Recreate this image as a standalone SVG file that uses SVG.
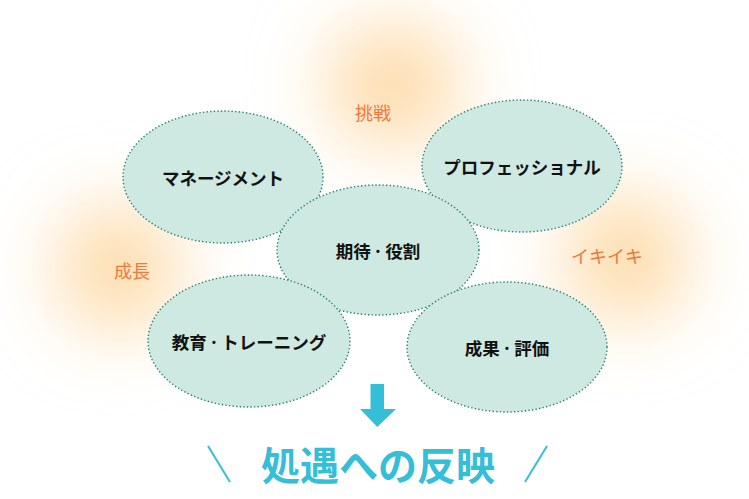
<svg xmlns="http://www.w3.org/2000/svg" width="749" height="499" viewBox="0 0 749 499">
<style>
.node{fill:#CDE9E2;stroke:#2B7F70;stroke-width:1.4;stroke-dasharray:1.4 2.2;}
.nt{font-family:"Noto Sans CJK JP","Noto Sans",sans-serif;font-weight:bold;font-size:17.5px;fill:#111;text-anchor:middle;}
.lbl{font-family:"Noto Sans CJK JP","Noto Sans",sans-serif;font-size:18px;fill:#F0783C;text-anchor:middle;}
.ttl{font-family:"Noto Sans CJK JP","Noto Sans",sans-serif;font-weight:bold;font-size:39px;fill:#35BED7;text-anchor:middle;}
.glow{fill:#FDD9A4;filter:url(#blur);}
</style>
<defs>
<filter id="blur" x="-100%" y="-100%" width="300%" height="300%">
<feGaussianBlur stdDeviation="38"/>
</filter>
</defs>
<rect width="749" height="499" fill="#FFFFFF"/>
<g id="glows">
<ellipse class="glow" cx="393" cy="85" rx="65" ry="60"/>
<ellipse class="glow" cx="118" cy="268" rx="60" ry="62"/>
<ellipse class="glow" cx="626" cy="258" rx="60" ry="62"/>
</g>
<g id="labels">
<text class="lbl" x="373" y="120">挑戦</text>
<text class="lbl" x="132" y="278">成長</text>
<text class="lbl" x="607" y="263">イキイキ</text>
</g>
<g id="node-management">
<ellipse class="node" cx="223" cy="177" rx="100" ry="66"/>
<text class="nt" x="223" y="185">マネージメント</text>
</g>
<g id="node-professional">
<ellipse class="node" cx="522" cy="166" rx="100" ry="66"/>
<text class="nt" x="522" y="174">プロフェッショナル</text>
</g>
<g id="node-kitai">
<ellipse class="node" cx="378" cy="250" rx="101" ry="65"/>
<text class="nt" x="378" y="258">期待<tspan dx="2">·</tspan><tspan dx="2">役割</tspan></text>
</g>
<g id="node-kyoiku">
<ellipse class="node" cx="249" cy="341" rx="101" ry="66"/>
<text class="nt" x="249" y="349">教育<tspan dx="2">·</tspan><tspan dx="2">トレーニング</tspan></text>
</g>
<g id="node-seika">
<ellipse class="node" cx="507" cy="347" rx="100" ry="65"/>
<text class="nt" x="507" y="355">成果<tspan dx="2">·</tspan><tspan dx="2">評価</tspan></text>
</g>
<g id="connectors">
<polygon points="370.5,384 384,384 384,409 396,409 377.3,427 360,409 370.5,409" fill="#35BED7"/>
</g>
<g id="title">
<line x1="208" y1="446" x2="230" y2="482" stroke="#35BED7" stroke-width="2"/>
<line x1="547" y1="446" x2="525" y2="482" stroke="#35BED7" stroke-width="2"/>
<text class="ttl" x="378" y="480">処遇への反映</text>
</g>
</svg>
